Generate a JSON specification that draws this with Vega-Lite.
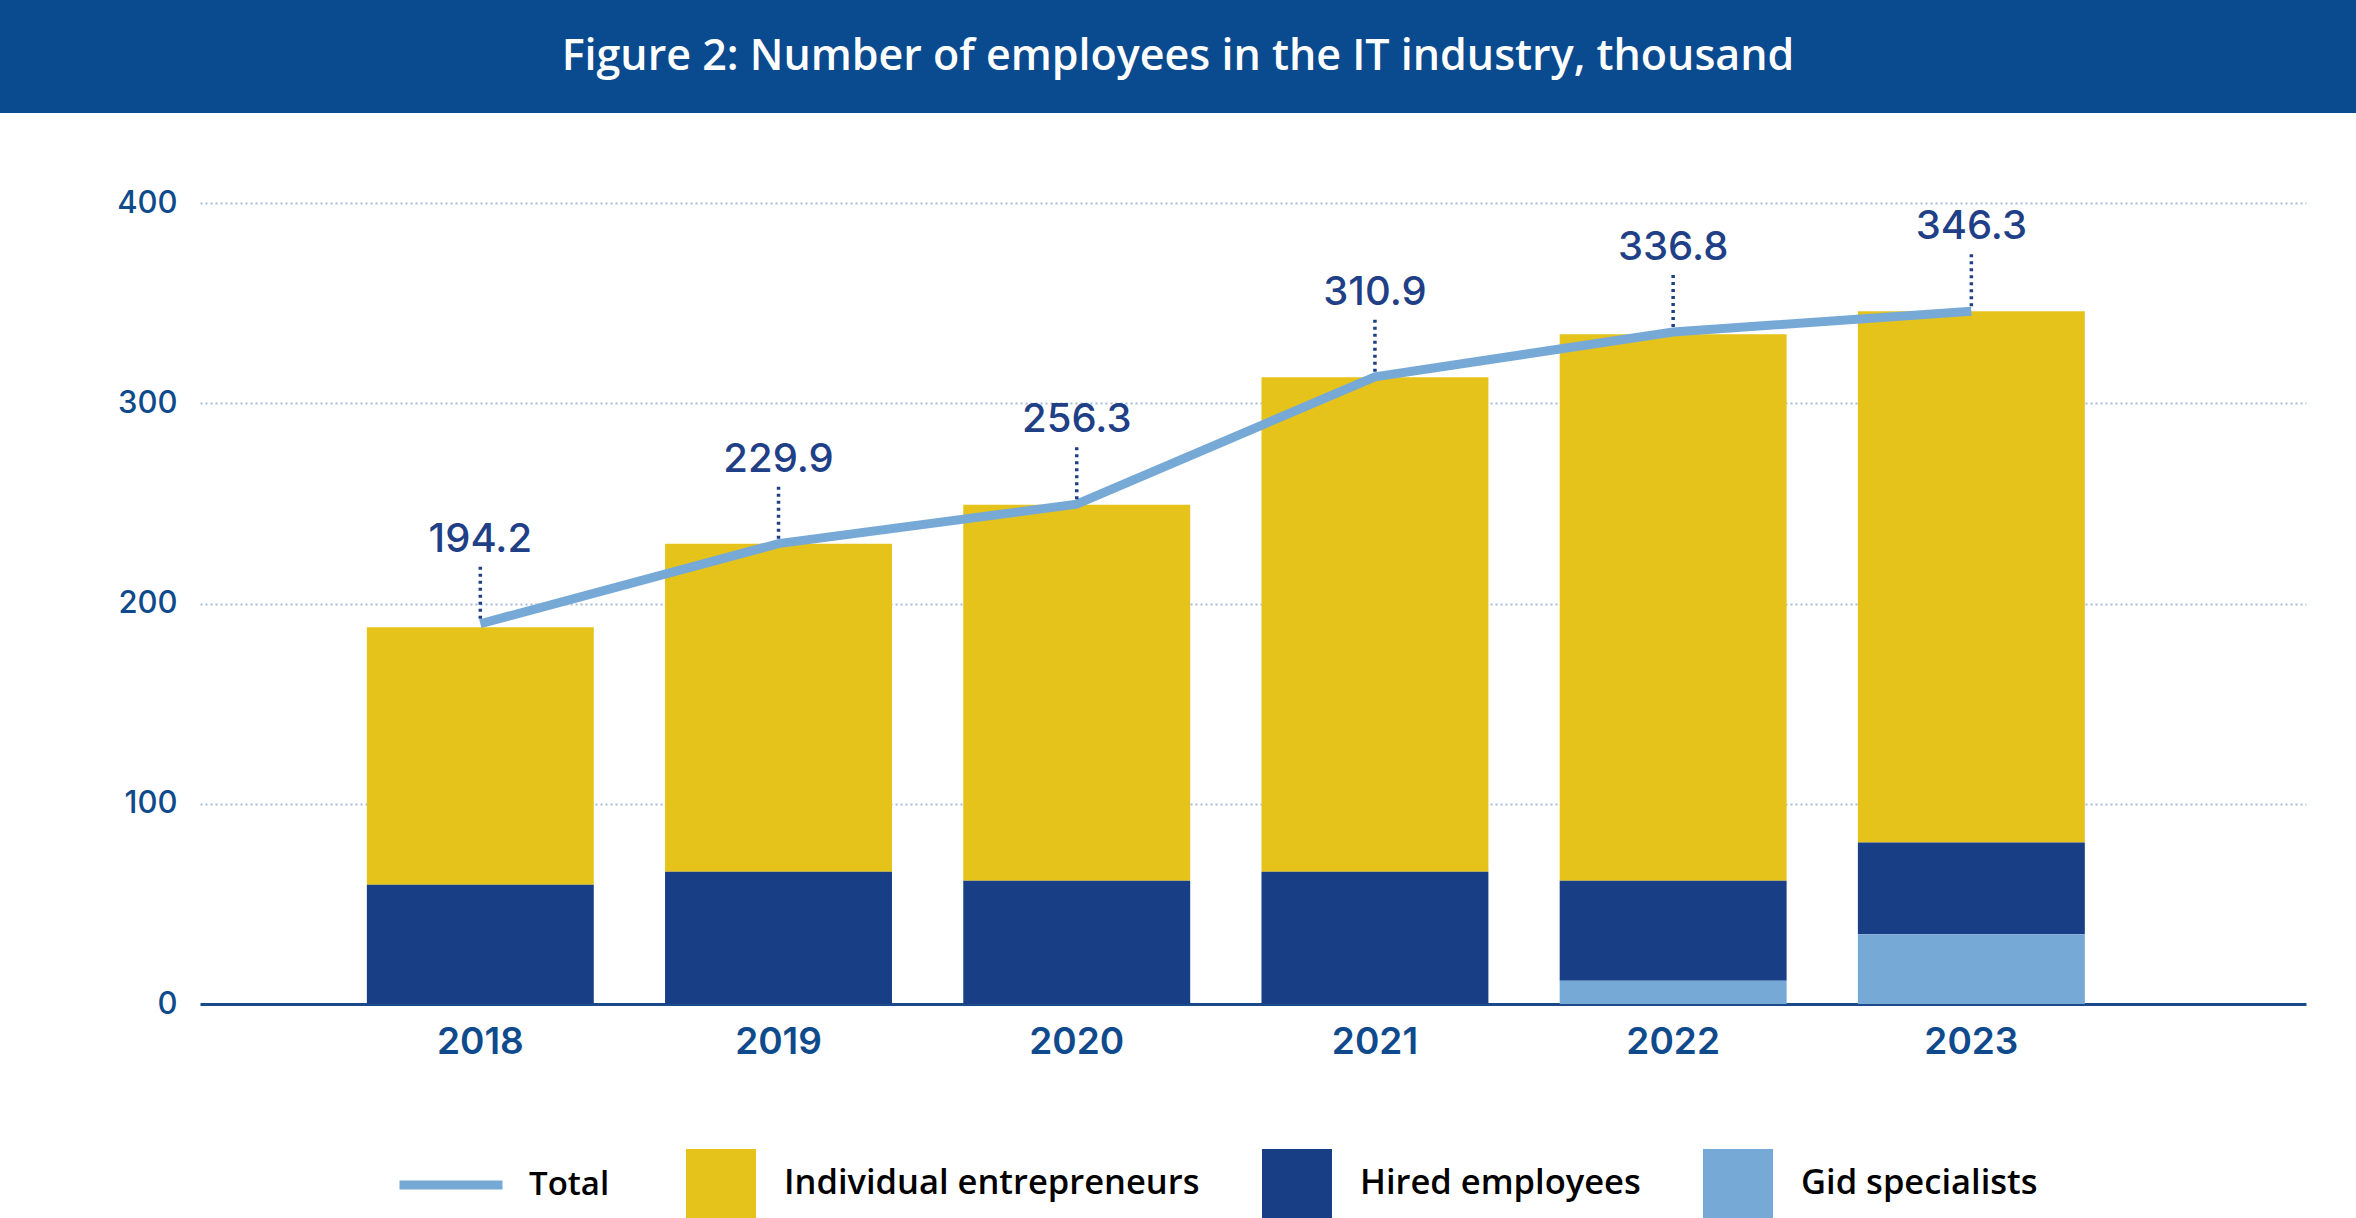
{
  "$schema": "https://vega.github.io/schema/vega-lite/v6.json",
  "padding": 0,
  "background": "white",
  "spacing": 74,
  "bounds": "full",
  "config": {"view": {"stroke": null}},
  "datasets": {
    "bars": [
      {"year": "2018", "category": "Individual entrepreneurs", "value": 128.5},
      {"year": "2018", "category": "Hired employees", "value": 59.6},
      {"year": "2018", "category": "Gid specialists", "value": 0},
      {"year": "2019", "category": "Individual entrepreneurs", "value": 163.8},
      {"year": "2019", "category": "Hired employees", "value": 66.1},
      {"year": "2019", "category": "Gid specialists", "value": 0},
      {"year": "2020", "category": "Individual entrepreneurs", "value": 187.7},
      {"year": "2020", "category": "Hired employees", "value": 61.6},
      {"year": "2020", "category": "Gid specialists", "value": 0},
      {"year": "2021", "category": "Individual entrepreneurs", "value": 246.9},
      {"year": "2021", "category": "Hired employees", "value": 66.1},
      {"year": "2021", "category": "Gid specialists", "value": 0},
      {"year": "2022", "category": "Individual entrepreneurs", "value": 272.8},
      {"year": "2022", "category": "Hired employees", "value": 50.0},
      {"year": "2022", "category": "Gid specialists", "value": 11.6},
      {"year": "2023", "category": "Individual entrepreneurs", "value": 265.3},
      {"year": "2023", "category": "Hired employees", "value": 45.8},
      {"year": "2023", "category": "Gid specialists", "value": 34.8}
    ],
    "totals": [
      {"year": "2018", "total": 189.9, "label": "194.2"},
      {"year": "2019", "total": 229.9, "label": "229.9"},
      {"year": "2020", "total": 249.6, "label": "256.3"},
      {"year": "2021", "total": 313.2, "label": "310.9"},
      {"year": "2022", "total": 335.6, "label": "336.8"},
      {"year": "2023", "total": 345.9, "label": "346.3"}
    ]
  },
  "vconcat": [
    {
      "width": 2356,
      "height": 113,
      "view": {"fill": "#0a4a8f", "stroke": null},
      "data": {"values": [{"caption": "Figure 2: Number of employees in the IT industry, thousand"}]},
      "mark": {
        "type": "text",
        "font": "Open Sans",
        "fontSize": 43,
        "fontWeight": 600,
        "color": "#ffffff",
        "align": "center",
        "baseline": "middle"
      },
      "encoding": {"text": {"field": "caption", "type": "nominal"}}
    },
    {
      "spacing": 0,
      "hconcat": [
        {
          "width": 1,
          "height": 1,
          "data": {"values": [{"blank": ""}]},
          "mark": {"type": "text"},
          "encoding": {"text": {"field": "blank", "type": "nominal"}}
        },
        {
          "width": 2106,
          "height": 801,
          "layer": [
            {
              "data": {"name": "bars"},
              "mark": {"type": "bar"},
              "encoding": {
                "x": {
                  "field": "year",
                  "type": "ordinal",
                  "scale": {"type": "band", "paddingInner": 0.239, "paddingOuter": 0.6506, "align": 0.43},
                  "axis": {
                    "title": null,
                    "labelAngle": 0,
                    "ticks": false,
                    "grid": false,
                    "domainColor": "#1b4a8c",
                    "domainWidth": 3,
                    "labelFont": "Inter",
                    "labelFontSize": 37,
                    "labelFontWeight": 600,
                    "labelColor": "#0f4a8c",
                    "labelPadding": 20
                  }
                },
                "y": {
                  "aggregate": "sum",
                  "field": "value",
                  "type": "quantitative",
                  "stack": "zero",
                  "scale": {"domain": [0, 400], "nice": false},
                  "axis": {
                    "title": null,
                    "values": [0, 100, 200, 300, 400],
                    "domain": false,
                    "ticks": false,
                    "labelFont": "Inter",
                    "labelFontSize": 31,
                    "labelFontWeight": 500,
                    "labelColor": "#0f4a8c",
                    "labelPadding": 23,
                    "minExtent": 199,
                    "maxExtent": 199,
                    "gridColor": "#a6bbdb",
                    "gridDash": [2, 3],
                    "gridWidth": 2,
                    "gridOpacity": {"condition": {"test": "datum.value === 0", "value": 0}, "value": 1}
                  }
                },
                "color": {
                  "field": "category",
                  "type": "nominal",
                  "scale": {
                    "domain": ["Individual entrepreneurs", "Hired employees", "Gid specialists"],
                    "range": ["#e6c31b", "#183f85", "#77a9d6"]
                  },
                  "legend": {
                    "title": null,
                    "orient": "none",
                    "direction": "horizontal",
                    "legendX": 686,
                    "legendY": 1149,
                    "padding": 0,
                    "symbolType": "square",
                    "symbolSize": 4900,
                    "symbolStrokeWidth": 0,
                    "labelFont": "Open Sans",
                    "labelFontSize": 34.5,
                    "labelFontWeight": 600,
                    "labelColor": "#000000",
                    "labelLimit": 700,
                    "labelOffset": 28,
                    "columnPadding": 62
                  }
                },
                "order": {"field": "category", "sort": "ascending"}
              }
            },
            {
              "data": {"name": "totals"},
              "mark": {"type": "line", "strokeWidth": 9},
              "encoding": {
                "x": {"field": "year", "type": "ordinal", "title": null},
                "y": {"field": "total", "type": "quantitative", "title": null},
                "stroke": {
                  "datum": "Total",
                  "type": "nominal",
                  "scale": {"domain": ["Total"], "range": ["#77a9d6"]},
                  "legend": {
                    "title": null,
                    "orient": "none",
                    "legendX": 395,
                    "legendY": 1129,
                    "padding": 0,
                    "symbolType": "stroke",
                    "symbolSize": 10609,
                    "symbolStrokeWidth": 9,
                    "labelFont": "Open Sans",
                    "labelFontSize": 33,
                    "labelFontWeight": 600,
                    "labelColor": "#000000",
                    "labelLimit": 300,
                    "labelOffset": 22
                  }
                }
              }
            },
            {
              "data": {"name": "totals"},
              "mark": {
                "type": "rule",
                "color": "#1f3f87",
                "strokeWidth": 3.5,
                "strokeDash": [3, 4],
                "yOffset": -5,
                "y2Offset": -60
              },
              "encoding": {
                "x": {"field": "year", "type": "ordinal", "title": null},
                "y": {"field": "total", "type": "quantitative", "title": null},
                "y2": {"field": "total"}
              }
            },
            {
              "data": {"name": "totals"},
              "mark": {
                "type": "text",
                "font": "Inter",
                "fontSize": 40,
                "fontWeight": 500,
                "color": "#1f3f87",
                "align": "center",
                "baseline": "middle",
                "dy": -84
              },
              "encoding": {
                "x": {"field": "year", "type": "ordinal", "title": null},
                "y": {"field": "total", "type": "quantitative", "title": null},
                "text": {"field": "label", "type": "nominal"}
              }
            }
          ]
        }
      ]
    }
  ]
}
